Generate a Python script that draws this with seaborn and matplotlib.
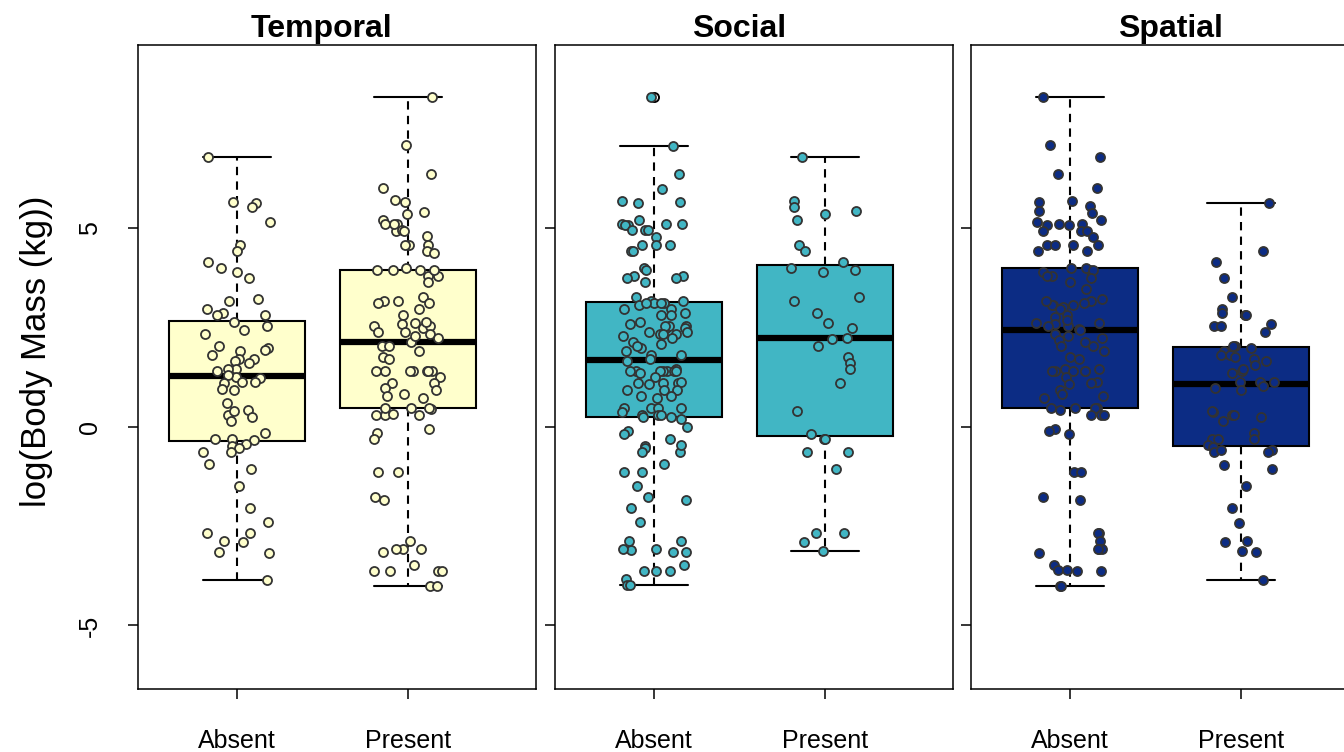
import numpy as np
import pandas as pd
import matplotlib
matplotlib.use('Agg')
import matplotlib.pyplot as plt
import seaborn as sns

panels = ['Temporal', 'Social', 'Spatial']
groups = ['Absent', 'Present']
box_colors = ['#FFFFCC', '#41B6C4', '#0C2C84']
y_ticks = [-5, 0, 5]

# log body mass values
temporal_absent = [6.78, 5.62, 5.64, 5.52, 5.16, 4.58, 4.41, 4.13, 4.0, 3.9, 3.75, 3.22, 3.15,
                   2.97, 2.87, 2.82, 2.8, 2.62, 2.52, 2.34, 2.44, 1.99, 2.04, 1.89, 1.94, 1.79,
                   1.71, 1.69, 1.61, 1.64, 1.39, 1.44, 1.44, 1.26, 1.31, 1.22, 1.13, 1.11, 1.13,
                   0.95, 0.91, 0.6, 0.43, 0.28, 0.40, 0.23, 0.15, -0.15, -0.30, -0.33, -0.30,
                   -0.48, -0.43, -0.55, -0.63, -0.65, -0.93, -1.06, -1.49, -2.04, -2.39, -2.67,
                   -2.67, -2.87, -2.90, -3.15, -3.17, -3.85]
temporal_present = [8.29, 7.08, 6.35, 6.0, 5.69, 5.64, 5.39, 5.34, 5.21, 5.09, 4.91, 5.09, 5.09,
                    4.94, 4.91, 4.79, 4.58, 4.58, 4.58, 4.43, 4.38, 3.93, 3.80, 3.80, 3.93, 3.93,
                    3.95, 3.98, 3.63, 3.27, 3.15, 2.97, 3.10, 3.17, 3.12, 2.82, 2.60, 2.49, 2.52,
                    2.64, 2.52, 2.57, 2.37, 2.39, 2.14, 2.27, 2.34, 2.24, 2.04, 2.04, 1.89, 1.76,
                    1.69, 1.41, 1.41, 1.41, 1.41, 1.41, 1.41, 1.41, 1.26, 1.11, 0.98, 1.11, 0.91,
                    0.78, 0.81, 0.73, 0.45, 0.30, 0.28, 0.48, 0.48, 0.48, 0.28, 0.33, -0.05,
                    -0.15, -0.30, -1.13, -1.13, -1.84, -1.76, -2.87, -3.07, -3.07, -3.15, -3.07,
                    -3.48, -3.63, -3.63, -3.63, -3.63, -4.0, -4.0]
social_absent = [8.29, 7.05, 6.35, 5.97, 5.64, 5.67, 5.62, 5.19, 5.06, 5.09, 5.09, 5.09, 5.06,
                 4.94, 4.94, 4.94, 4.76, 4.58, 4.58, 4.58, 4.41, 4.43, 3.98, 3.95, 3.80, 3.80,
                 3.75, 3.75, 3.65, 3.27, 3.17, 3.07, 3.10, 3.15, 3.10, 3.12, 3.12, 2.97, 2.97,
                 2.80, 2.85, 2.80, 2.64, 2.49, 2.52, 2.52, 2.57, 2.54, 2.49, 2.39, 2.32, 2.27,
                 2.37, 2.32, 2.32, 2.22, 2.14, 1.99, 2.04, 2.07, 1.89, 1.79, 1.79, 1.69, 1.66,
                 1.41, 1.44, 1.41, 1.41, 1.41, 1.41, 1.41, 1.41, 1.36, 1.26, 1.11, 1.11, 1.11,
                 1.08, 1.13, 0.91, 0.91, 0.93, 0.78, 0.78, 0.73, 0.48, 0.48, 0.48, 0.48, 0.30,
                 0.38, 0.25, 0.28, 0.20, 0.28, 0.25, 0.0, -0.10, -0.18, -0.30, -0.48, -0.53,
                 -0.63, -0.63, -0.45, -0.93, -1.13, -1.13, -1.49, -1.84, -1.76, -2.04, -2.39,
                 -2.87, -3.10, -3.15, -2.87, -3.15, -3.07, -3.07, -3.48, -3.63, -3.63, -3.63,
                 -3.83, -3.98, -3.98]
social_present = [6.78, 5.67, 5.52, 5.42, 5.19, 5.34, 4.58, 4.41, 4.13, 3.93, 3.88, 4.0, 3.25,
                  3.15, 2.87, 2.6, 2.49, 2.24, 2.2, 2.02, 1.74, 1.61, 1.44, 1.11, 0.40, -0.18,
                  -0.30, -0.30, -0.63, -0.63, -1.06, -2.67, -2.67, -2.9, -3.12]
spatial_absent = [8.29, 7.08, 6.78, 6.35, 6.0, 5.67, 5.64, 5.54, 5.42, 5.37, 5.16, 5.09, 5.06,
                  5.09, 5.19, 5.06, 4.91, 4.91, 4.91, 4.76, 4.58, 4.58, 4.56, 4.58, 4.43, 4.43,
                  3.98, 3.93, 3.98, 3.9, 3.93, 3.80, 3.75, 3.63, 3.78, 3.45, 3.15, 3.12, 3.22,
                  3.05, 3.07, 3.15, 3.07, 3.0, 2.97, 2.80, 2.75, 2.6, 2.54, 2.57, 2.67, 2.6,
                  2.52, 2.45, 2.42, 2.32, 2.27, 2.22, 2.19, 2.14, 2.04, 2.04, 1.89, 1.69, 1.74,
                  1.41, 1.44, 1.41, 1.41, 1.44, 1.41, 1.41, 1.26, 1.13, 1.11, 1.06, 0.91, 0.81,
                  0.78, 0.73, 0.48, 0.48, 0.48, 0.43, 0.48, 0.30, 0.28, 0.28, -0.05, -0.10,
                  -0.18, -1.13, -1.13, -1.76, -1.84, -2.67, -2.67, -2.87, -3.07, -3.07, -3.17,
                  -3.07, -3.48, -3.6, -3.6, -3.63, -3.63, -4.0, -4.0]
spatial_present = [5.62, 4.43, 4.13, 3.75, 3.27, 2.95, 2.82, 2.87, 2.80, 2.57, 2.37, 2.52, 2.54,
                   2.02, 1.97, 2.02, 1.91, 1.79, 1.81, 1.64, 1.71, 1.76, 1.56, 1.41, 1.46, 1.34,
                   1.13, 1.13, 1.13, 1.01, 0.98, 0.91, 0.28, 0.38, 0.28, 0.40, 0.15, 0.25, -0.15,
                   -0.30, -0.30, -0.30, -0.45, -0.50, -0.63, -0.60, -0.63, -0.58, -0.96, -1.06,
                   -1.49, -2.04, -2.42, -2.9, -2.87, -3.15, -3.12, -3.85]

values = {
    ('Temporal', 'Absent'): temporal_absent,
    ('Temporal', 'Present'): temporal_present,
    ('Social', 'Absent'): social_absent,
    ('Social', 'Present'): social_present,
    ('Spatial', 'Absent'): spatial_absent,
    ('Spatial', 'Present'): spatial_present,
}
rows = []
for (panel, group), vals in values.items():
    for v in vals:
        rows.append((panel, group, v))
df = pd.DataFrame(rows, columns=['panel', 'presence', 'log_mass'])

sns.set_style('white')
plt.rcParams['font.family'] = ['Liberation Sans', 'DejaVu Sans']
plt.rcParams['axes.unicode_minus'] = False
for k in ['text.color', 'axes.labelcolor', 'xtick.color', 'ytick.color', 'axes.edgecolor']:
    plt.rcParams[k] = 'black'
np.random.seed(7)

fig = plt.figure(figsize=(13.44, 7.52), dpi=100)
lefts = [138, 555, 971]
title_x = [0.462, 0.462, 0.5]

for i, panel in enumerate(panels):
    ax = fig.add_axes([lefts[i] / 1344, 1 - 689 / 752, 398 / 1344, 644 / 752])
    sub = df[df.panel == panel]
    sns.boxplot(data=sub, x='presence', y='log_mass', order=groups, color=box_colors[i],
                saturation=1, width=0.8, linecolor='black', linewidth=1.5, whis=1.5,
                medianprops=dict(linewidth=4.5, color='black'),
                whiskerprops=dict(linestyle=(0, (4, 3))),
                flierprops=dict(marker='o', markerfacecolor='white', markeredgecolor='black',
                                markersize=6.5, markeredgewidth=1.4),
                ax=ax)
    sns.stripplot(data=sub, x='presence', y='log_mass', order=groups, color=box_colors[i],
                  edgecolor='#333333', linewidth=1.3, size=6.5, jitter=0.2, ax=ax, zorder=3)

    ax.set_xlim(-0.58, 1.75)
    ax.set_ylim(-6.6, 9.6)
    ax.set_yticks(y_ticks)
    ax.set_xlabel('')
    ax.set_ylabel('')
    ax.set_title(panel, fontsize=23, fontweight='bold', pad=6, x=title_x[i])
    for s in ax.spines.values():
        s.set_visible(True)
        s.set_color('black')
        s.set_linewidth(1.1)
    ax.tick_params(axis='x', bottom=True, length=7, width=1.1, labelsize=18, pad=22, color='black')
    ax.tick_params(axis='y', left=True, length=7, width=1.1, labelsize=18, pad=19,
                   labelrotation=90, labelleft=(i == 0), color='black')
    if i == 0:
        for lab in ax.get_yticklabels():
            lab.set_va('center')
        ax.set_ylabel('log(Body Mass (kg))', fontsize=25, labelpad=18, y=0.525)

fig.savefig('out.png', dpi=100)
